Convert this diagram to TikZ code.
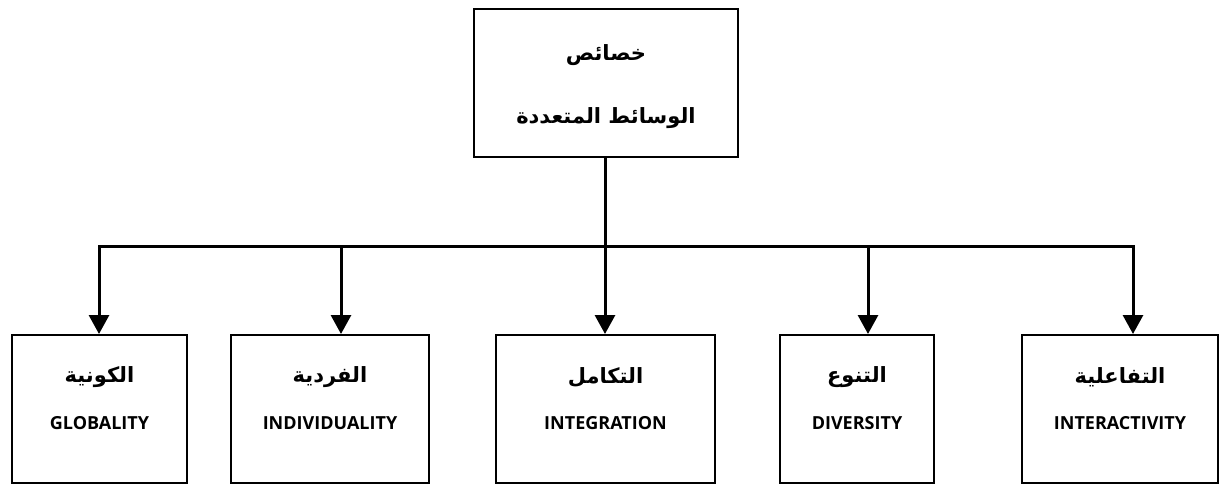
\documentclass[tikz,border=0pt]{standalone}
\usepackage{fontspec}
\setmainfont{Open Sans}
\newfontfamily\arabicfont[Script=Arabic]{DejaVu Sans}
\TeXXeTstate=1
\usetikzlibrary{arrows.meta}

\tikzset{
  box/.style={draw, line width=2pt, inner sep=0pt},
  ar/.style={font=\arabicfont\bfseries\fontsize{21}{24}\selectfont, inner sep=0pt},
  en/.style={font=\bfseries\fontsize{18}{21}\selectfont, inner sep=0pt},
  conn/.style={line width=3pt},
  arr/.style={line width=3pt, -{Triangle[width=20pt,length=19pt]}}
}

\begin{document}
\begin{tikzpicture}[x=1pt,y=-1pt]
\useasboundingbox (0,0) rectangle (1221,484);

%top box
\node[box, minimum width=264pt, minimum height=148pt] (main) at (606,83) {};
\node[ar] (mainA) at (606,55) {\beginR خصائص\endR};
\node[ar] (mainB) at (606,118) {\beginR الوسائط المتعددة\endR};

%bottom boxes
\node[box, minimum width=175pt, minimum height=148pt] (glob) at (99.5,409) {};
\node[box, minimum width=198pt, minimum height=148pt] (indiv) at (330,409) {};
\node[box, minimum width=219pt, minimum height=148pt] (integ) at (605.5,409) {};
\node[box, minimum width=154pt, minimum height=148pt] (diver) at (857,409) {};
\node[box, minimum width=196pt, minimum height=148pt] (inter) at (1120,409) {};

\node[ar] (globA) at (99.5,377) {\beginR الكونية\endR};
\node[en] (globE) at (99.5,423) {GLOBALITY};
\node[ar] (indivA) at (330,377) {\beginR الفردية\endR};
\node[en] (indivE) at (330,423) {INDIVIDUALITY};
\node[ar] (integA) at (605.5,377) {\beginR التكامل\endR};
\node[en] (integE) at (605.5,423) {INTEGRATION};
\node[ar] (diverA) at (857,377) {\beginR التنوع\endR};
\node[en] (diverE) at (857,423) {DIVERSITY};
\node[ar] (interA) at (1120,377) {\beginR التفاعلية\endR};
\node[en] (interE) at (1120,423) {INTERACTIVITY};

%connectors
\coordinate (bus) at (605,246);
\coordinate (busL) at (99,246);
\coordinate (busR) at (1133,246);
\coordinate (bus2) at (341,246);
\coordinate (bus4) at (868,246);
\draw[conn] (main.south -| bus) -- (bus);
\draw[conn, line cap=rect] (busL) -- (busR);
\draw[arr] (busL) -- (busL |- glob.north);
\draw[arr] (bus2) -- (bus2 |- indiv.north);
\draw[arr] (bus) -- (bus |- integ.north);
\draw[arr] (bus4) -- (bus4 |- diver.north);
\draw[arr] (busR) -- (busR |- inter.north);
\end{tikzpicture}
\end{document}
